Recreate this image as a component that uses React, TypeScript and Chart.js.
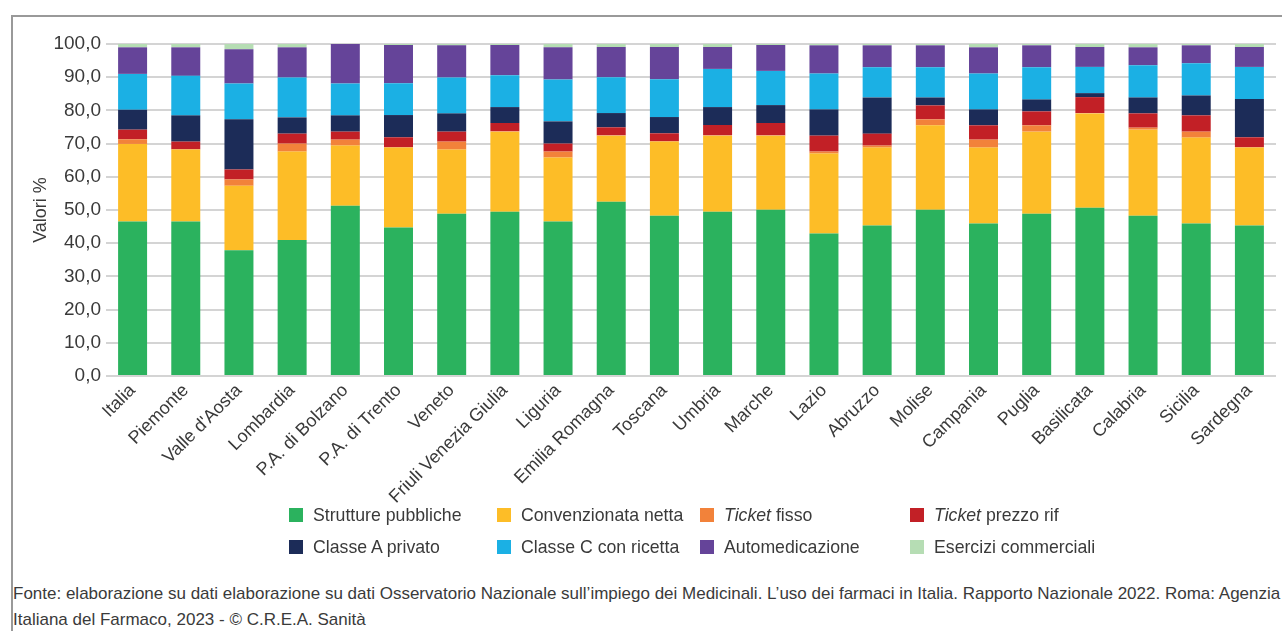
import React, { useEffect, useRef } from "react";
import { Chart, registerables } from "chart.js";

Chart.register(...registerables);

const categories = [
  "Italia", "Piemonte", "Valle d'Aosta", "Lombardia", "P.A. di Bolzano", "P.A. di Trento",
  "Veneto", "Friuli Venezia Giulia", "Liguria", "Emilia Romagna", "Toscana", "Umbria",
  "Marche", "Lazio", "Abruzzo", "Molise", "Campania", "Puglia", "Basilicata", "Calabria",
  "Sicilia", "Sardegna",
];

const strutturePubbliche = [46.5, 46.5, 37.9, 41.0, 51.3, 44.7, 48.9, 49.5, 46.5, 52.5, 48.3, 49.5, 50.1, 42.9, 45.3, 50.1, 45.9, 48.9, 50.7, 48.3, 45.9, 45.3];
const convenzionataNetta = [23.4, 21.7, 19.4, 26.6, 18.1, 24.1, 19.3, 24.1, 19.3, 19.9, 22.3, 22.9, 22.3, 24.1, 23.5, 25.4, 22.9, 24.7, 28.4, 25.9, 25.9, 23.5];
const ticketFisso = [1.4, 0.1, 1.9, 2.4, 1.8, 0.1, 2.4, 0.1, 1.8, 0.1, 0.1, 0.1, 0.1, 0.6, 0.6, 1.8, 2.4, 1.9, 0.1, 0.6, 1.8, 0.1];
const ticketPrezzoRif = [2.9, 2.3, 3.0, 3.0, 2.4, 3.0, 3.0, 2.5, 2.4, 2.4, 2.4, 3.1, 3.7, 4.8, 3.6, 4.2, 4.3, 4.2, 4.8, 4.3, 4.9, 3.0];
const classeAPrivato = [6.0, 7.9, 15.1, 4.9, 4.9, 6.7, 5.5, 4.8, 6.7, 4.3, 4.9, 5.4, 5.4, 7.9, 10.9, 2.4, 4.8, 3.6, 1.2, 4.8, 6.0, 11.5];
const classeCConRicetta = [10.8, 11.9, 10.8, 12.0, 9.6, 9.6, 10.8, 9.6, 12.6, 10.8, 11.4, 11.5, 10.3, 10.8, 9.1, 9.1, 10.8, 9.7, 7.9, 9.7, 9.7, 9.7];
const automedicazione = [8.0, 8.6, 10.3, 9.1, 11.9, 11.5, 9.7, 9.1, 9.7, 9.1, 9.7, 6.6, 7.8, 8.5, 6.6, 6.6, 7.9, 6.6, 6.0, 5.4, 5.4, 6.0];
const eserciziCommerciali = [1.0, 1.0, 1.6, 1.0, 0.0, 0.4, 0.4, 0.4, 1.0, 1.0, 1.0, 1.0, 0.4, 0.4, 0.4, 0.4, 1.0, 0.4, 1.0, 1.0, 0.4, 1.0];

const yTicks = [0, 10, 20, 30, 40, 50, 60, 70, 80, 90, 100];

const FONT = "'Liberation Sans', Arial, sans-serif";
const TEXT = "#3a3a3a";

const seriesDefs = [
  { label: "Strutture pubbliche", data: strutturePubbliche, color: "#2bb25e" },
  { label: "Convenzionata netta", data: convenzionataNetta, color: "#fdbd27" },
  { label: "Ticket fisso", data: ticketFisso, color: "#f2823a" },
  { label: "Ticket prezzo rif", data: ticketPrezzoRif, color: "#c22026" },
  { label: "Classe A privato", data: classeAPrivato, color: "#1c2c58" },
  { label: "Classe C con ricetta", data: classeCConRicetta, color: "#1bb0e4" },
  { label: "Automedicazione", data: automedicazione, color: "#654499" },
  { label: "Esercizi commerciali", data: eserciziCommerciali, color: "#b6ddb4" },
];

const legendCols = [289, 497, 700, 910];
const legendRows = [515, 547];

function LegendLabel({ text }: { text: string }) {
  if (text.startsWith("Ticket ")) {
    return (
      <span>
        <i>Ticket</i> {text.slice(7)}
      </span>
    );
  }
  return <span>{text}</span>;
}

export default function App() {
  const canvasRef = useRef<HTMLCanvasElement | null>(null);

  useEffect(() => {
    if (!canvasRef.current) return;
    const chart = new Chart(canvasRef.current, {
      type: "bar",
      data: {
        labels: categories,
        datasets: seriesDefs.map((s) => ({
          label: s.label,
          data: s.data,
          backgroundColor: s.color,
          borderWidth: 0,
          barPercentage: 0.545,
          categoryPercentage: 1,
        })),
      },
      options: {
        animation: false,
        responsive: false,
        maintainAspectRatio: false,
        layout: { padding: { top: 44, left: 0, right: 6, bottom: 0 } },
        plugins: { legend: { display: false }, tooltip: { enabled: false } },
        scales: {
          x: {
            stacked: true,
            grid: { display: false, drawTicks: false },
            border: { display: false },
            ticks: {
              autoSkip: false,
              maxRotation: 45,
              minRotation: 45,
              padding: 4,
              color: TEXT,
              font: { family: FONT, size: 18 },
            },
            afterFit: (scale: any) => {
              scale.height = 129;
            },
          },
          y: {
            stacked: true,
            min: 0,
            max: 100,
            afterBuildTicks: (scale: any) => {
              scale.ticks = yTicks.map((v) => ({ value: v }));
            },
            grid: { color: "#d4d4d4", lineWidth: 2, drawTicks: false },
            border: { display: false },
            ticks: {
              padding: 5,
              color: TEXT,
              font: { family: FONT, size: 19 },
              callback: (v: any) => Number(v).toFixed(1).replace(".", ","),
            },
            title: {
              display: true,
              text: "Valori %",
              color: TEXT,
              font: { family: FONT, size: 18 },
              padding: { top: 30, bottom: 0 },
            },
            afterFit: (scale: any) => {
              scale.width = 106;
            },
          },
        },
      },
    });
    return () => chart.destroy();
  }, []);

  return (
    <div
      style={{
        position: "fixed",
        left: 0,
        top: 0,
        width: 1282,
        height: 631,
        background: "#fff",
        overflow: "hidden",
        fontFamily: FONT,
        color: TEXT,
      }}
    >
      <div style={{ position: "absolute", left: 11, top: 15, width: 1271, height: 2, background: "#999" }} />
      <div style={{ position: "absolute", left: 11, top: 15, width: 2, height: 616, background: "#999" }} />
      <canvas
        ref={canvasRef}
        width={1282}
        height={505}
        style={{ position: "absolute", left: 0, top: 0, width: 1282, height: 505 }}
      />
      {seriesDefs.map((s, i) => {
        const col = legendCols[i % 4];
        const row = legendRows[Math.floor(i / 4)];
        return (
          <div key={s.label}>
            <div
              style={{
                position: "absolute",
                left: col,
                top: row - 7,
                width: 14,
                height: 14,
                background: s.color,
              }}
            />
            <div
              style={{
                position: "absolute",
                left: col + 24,
                top: row - 13,
                height: 26,
                lineHeight: "26px",
                fontSize: 17.7,
                whiteSpace: "nowrap",
              }}
            >
              <LegendLabel text={s.label} />
            </div>
          </div>
        );
      })}
      <div
        style={{
          position: "absolute",
          left: 13,
          top: 581,
          width: 1275,
          fontSize: 17,
          lineHeight: "26px",
          whiteSpace: "nowrap",
        }}
      >
        <div>
          Fonte: elaborazione su dati elaborazione su dati Osservatorio Nazionale sull’impiego dei Medicinali. L’uso dei farmaci in Italia. Rapporto Nazionale 2022. Roma: Agenzia
        </div>
        <div>Italiana del Farmaco, 2023 - © C.R.E.A. Sanità</div>
      </div>
    </div>
  );
}
